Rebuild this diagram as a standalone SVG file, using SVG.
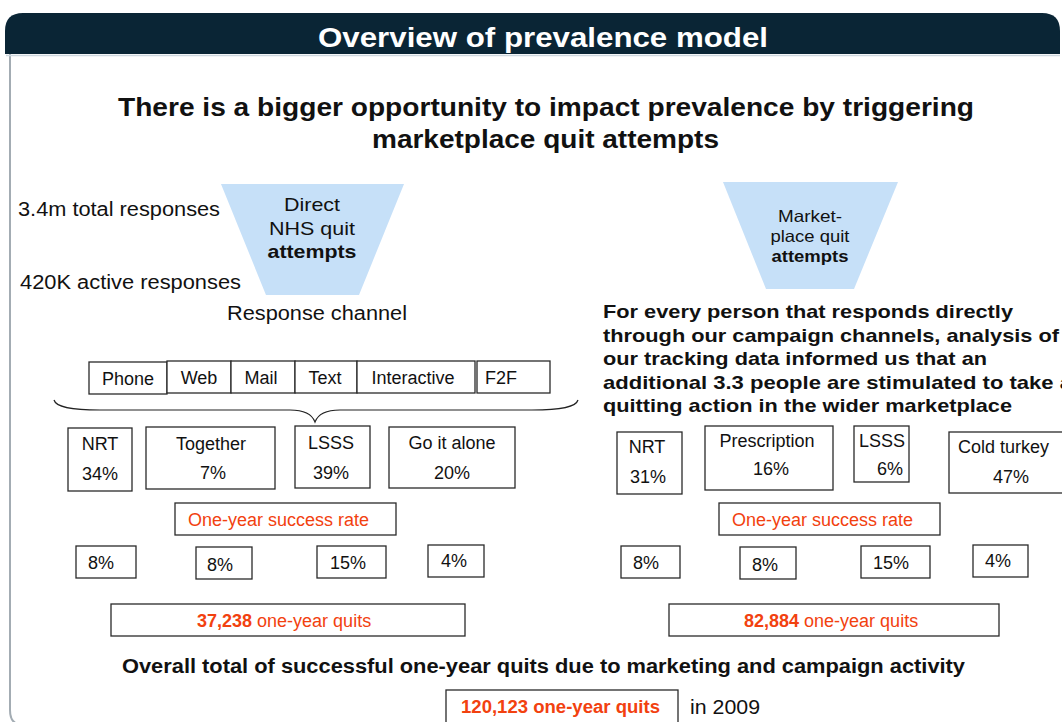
<svg xmlns="http://www.w3.org/2000/svg" width="1062" height="722" viewBox="0 0 1062 722">
  <style>
    text { font-family: "Liberation Sans", Arial, sans-serif; fill: #111; }
    .title { font-size: 28px; font-weight: bold; fill: #ffffff; }
    .head { font-size: 26px; font-weight: bold; }
    .side { font-size: 19.5px; }
    .para { font-size: 19px; font-weight: bold; }
    .lbl { font-size: 18px; }
    .fun { font-size: 19px; }
    .fun2 { font-size: 16.5px; }
    .b { font-weight: bold; }
    .red { fill: #f2410f; }
    .box { fill: #ffffff; stroke: #2a2a2a; stroke-width: 1.3; }
    .funnel { fill: #c6e0f8; }
    .brace { fill: none; stroke: #222; stroke-width: 1.2; }
  </style>

  <!-- page frame -->
  <rect x="0" y="0" width="1062" height="722" fill="#ffffff"/>
  <path d="M10,54 V710 Q10,722 18,724" fill="none" stroke="#a3acb3" stroke-width="2"/>
  <path d="M5,54 V31 Q5,13 23,13 H1042 Q1060,13 1060,31 V54 Z" fill="#0a2535"/>
  <line x1="6" y1="55.5" x2="1060" y2="55.5" stroke="#cdd7de" stroke-width="1.5"/>
  <text class="title" x="543" y="47" text-anchor="middle" textLength="450" lengthAdjust="spacingAndGlyphs">Overview of prevalence model</text>

  <!-- headline -->
  <text class="head" x="118" y="116" textLength="856" lengthAdjust="spacingAndGlyphs">There is a bigger opportunity to impact prevalence by triggering</text>
  <text class="head" x="372" y="148" textLength="347" lengthAdjust="spacingAndGlyphs">marketplace quit attempts</text>

  <!-- left side: direct responses -->
  <text class="side" x="18" y="216" textLength="202" lengthAdjust="spacingAndGlyphs">3.4m total responses</text>
  <text class="side" x="20" y="289" textLength="221" lengthAdjust="spacingAndGlyphs">420K active responses</text>

  <g id="funnel-direct">
    <polygon class="funnel" points="221,184 404,184 359,295 266,295"/>
    <text class="fun" x="312" y="211" text-anchor="middle" textLength="56" lengthAdjust="spacingAndGlyphs">Direct</text>
    <text class="fun" x="312" y="235" text-anchor="middle" textLength="86" lengthAdjust="spacingAndGlyphs">NHS quit</text>
    <text class="fun b" x="312" y="258" text-anchor="middle" textLength="89" lengthAdjust="spacingAndGlyphs">attempts</text>
  </g>

  <text class="side" x="227" y="320" textLength="180" lengthAdjust="spacingAndGlyphs">Response channel</text>

  <!-- response channels -->
  <g id="channel-phone"><rect class="box" x="89" y="362" width="78" height="32"/><text class="lbl" x="128" y="385" text-anchor="middle">Phone</text></g>
  <g id="channel-web"><rect class="box" x="167" y="361" width="64" height="32"/><text class="lbl" x="199" y="384" text-anchor="middle">Web</text></g>
  <g id="channel-mail"><rect class="box" x="231" y="361" width="64" height="32"/><text class="lbl" x="261" y="384" text-anchor="middle">Mail</text></g>
  <g id="channel-text"><rect class="box" x="295" y="361" width="62" height="32"/><text class="lbl" x="325" y="384" text-anchor="middle">Text</text></g>
  <g id="channel-interactive"><rect class="box" x="357" y="361" width="118" height="32"/><text class="lbl" x="413" y="384" text-anchor="middle">Interactive</text></g>
  <g id="channel-f2f"><rect class="box" x="477" y="361" width="73" height="32"/><text class="lbl" x="485" y="384">F2F</text></g>

  <g id="connectors">
    <path class="brace" d="M54,400 C56,407 70,410 100,410 L290,410 C305,410 312,414 315,422 C318,414 325,410 340,410 L532,410 C562,410 576,407 578,400"/>
  </g>

  <!-- direct quit methods -->
  <g id="direct-nrt"><rect class="box" x="68" y="428" width="64" height="63"/><text class="lbl" x="100" y="450" text-anchor="middle">NRT</text><text class="lbl" x="100" y="480" text-anchor="middle">34%</text></g>
  <g id="direct-together"><rect class="box" x="146" y="427" width="129" height="62"/><text class="lbl" x="211" y="450" text-anchor="middle">Together</text><text class="lbl" x="213" y="479" text-anchor="middle">7%</text></g>
  <g id="direct-lsss"><rect class="box" x="295" y="426" width="75" height="62"/><text class="lbl" x="331" y="449" text-anchor="middle">LSSS</text><text class="lbl" x="331" y="479" text-anchor="middle">39%</text></g>
  <g id="direct-alone"><rect class="box" x="389" y="427" width="126" height="61"/><text class="lbl" x="452" y="449" text-anchor="middle">Go it alone</text><text class="lbl" x="452" y="479" text-anchor="middle">20%</text></g>

  <g id="direct-success"><rect class="box" x="175" y="503" width="221" height="32"/><text class="lbl red" x="188" y="526">One-year success rate</text></g>

  <g id="direct-rate-nrt"><rect class="box" x="76" y="546" width="60" height="32"/><text class="lbl" x="88" y="569">8%</text></g>
  <g id="direct-rate-together"><rect class="box" x="196" y="547" width="56" height="32"/><text class="lbl" x="207" y="571">8%</text></g>
  <g id="direct-rate-lsss"><rect class="box" x="317" y="546" width="69" height="32"/><text class="lbl" x="330" y="569">15%</text></g>
  <g id="direct-rate-alone"><rect class="box" x="428" y="545" width="56" height="32"/><text class="lbl" x="441" y="567">4%</text></g>

  <g id="direct-total"><rect class="box" x="111" y="604" width="354" height="32"/><text class="lbl red" x="197" y="627"><tspan class="b">37,238</tspan> one-year quits</text></g>

  <!-- right side: marketplace -->
  <g id="funnel-market">
    <polygon class="funnel" points="723,182 898,182 854,289 766,289"/>
    <text class="fun2" x="810" y="222" text-anchor="middle" textLength="64" lengthAdjust="spacingAndGlyphs">Market-</text>
    <text class="fun2" x="810" y="242" text-anchor="middle" textLength="79" lengthAdjust="spacingAndGlyphs">place quit</text>
    <text class="fun2 b" x="810" y="262" text-anchor="middle" textLength="77" lengthAdjust="spacingAndGlyphs">attempts</text>
  </g>

  <text class="para" x="603" y="318" textLength="410" lengthAdjust="spacingAndGlyphs">For every person that responds directly</text>
  <text class="para" x="603" y="342" textLength="456" lengthAdjust="spacingAndGlyphs">through our campaign channels, analysis of</text>
  <text class="para" x="603" y="365" textLength="384" lengthAdjust="spacingAndGlyphs">our tracking data informed us that an</text>
  <text class="para" x="603" y="389" textLength="469" lengthAdjust="spacingAndGlyphs">additional 3.3 people are stimulated to take a</text>
  <text class="para" x="603" y="412" textLength="409" lengthAdjust="spacingAndGlyphs">quitting action in the wider marketplace</text>

  <g id="market-nrt"><rect class="box" x="617" y="432" width="65" height="62"/><text class="lbl" x="647" y="453" text-anchor="middle">NRT</text><text class="lbl" x="648" y="483" text-anchor="middle">31%</text></g>
  <g id="market-prescription"><rect class="box" x="705" y="426" width="128" height="64"/><text class="lbl" x="767" y="447" text-anchor="middle">Prescription</text><text class="lbl" x="771" y="475" text-anchor="middle">16%</text></g>
  <g id="market-lsss"><rect class="box" x="854" y="426" width="55" height="56"/><text class="lbl" x="882" y="447" text-anchor="middle">LSSS</text><text class="lbl" x="890" y="475" text-anchor="middle">6%</text></g>
  <g id="market-cold"><rect class="box" x="949" y="432" width="120" height="61"/><text class="lbl" x="958" y="453">Cold turkey</text><text class="lbl" x="1011" y="483" text-anchor="middle">47%</text></g>

  <g id="market-success"><rect class="box" x="719" y="503" width="221" height="32"/><text class="lbl red" x="732" y="526">One-year success rate</text></g>

  <g id="market-rate-nrt"><rect class="box" x="621" y="546" width="59" height="32"/><text class="lbl" x="633" y="569">8%</text></g>
  <g id="market-rate-prescription"><rect class="box" x="740" y="547" width="56" height="32"/><text class="lbl" x="752" y="571">8%</text></g>
  <g id="market-rate-lsss"><rect class="box" x="861" y="546" width="69" height="32"/><text class="lbl" x="873" y="569">15%</text></g>
  <g id="market-rate-cold"><rect class="box" x="973" y="545" width="55" height="32"/><text class="lbl" x="985" y="567">4%</text></g>

  <g id="market-total"><rect class="box" x="669" y="604" width="330" height="32"/><text class="lbl red" x="744" y="627"><tspan class="b">82,884</tspan> one-year quits</text></g>

  <!-- overall total -->
  <text class="head" style="font-size:20px" x="122" y="673" textLength="843" lengthAdjust="spacingAndGlyphs">Overall total of successful one-year quits due to marketing and campaign activity</text>
  <g id="overall-total"><rect class="box" x="446" y="690" width="232" height="40"/><text class="lbl red b" x="461" y="713" textLength="199" lengthAdjust="spacingAndGlyphs">120,123 one-year quits</text></g>
  <text class="side" x="690" y="714" textLength="70" lengthAdjust="spacingAndGlyphs">in 2009</text>
</svg>
